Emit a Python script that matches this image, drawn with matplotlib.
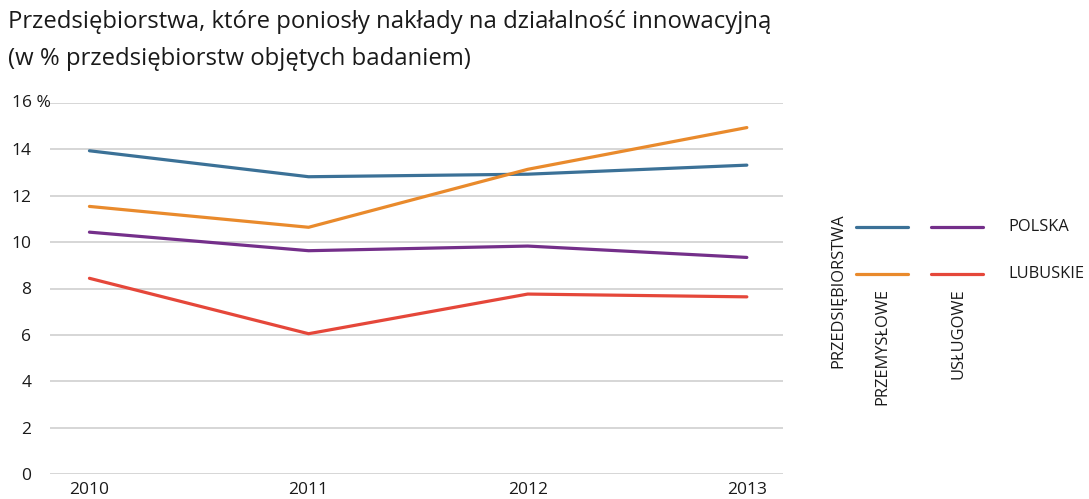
import matplotlib
matplotlib.use("Agg")
import matplotlib.pyplot as plt
from matplotlib.transforms import blended_transform_factory

years = [2010, 2011, 2012, 2013]
przemyslowe_polska = [13.94, 12.82, 12.93, 13.32]
przemyslowe_lubuskie = [11.54, 10.64, 13.14, 14.94]
uslugowe_polska = [10.43, 9.63, 9.83, 9.34]
uslugowe_lubuskie = [8.44, 6.05, 7.76, 7.64]
yticks = [0, 2, 4, 6, 8, 10, 12, 14, 16]
ytick_labels = ["0", "2", "4", "6", "8", "10", "12", "14", ""]
top_label = "16 %"

title = "Przedsiębiorstwa, które poniosły nakłady na działalność innowacyjną\n(w % przedsiębiorstw objętych badaniem)"

C_BLUE = "#3b7197"
C_ORANGE = "#e98a2c"
C_PURPLE = "#742f8a"
C_RED = "#e5473a"
FONT = "Open Sans"
TXT = "#1a1a1a"

plt.rcParams["font.family"] = [FONT, "DejaVu Sans"]

W, H = 1089, 499
fig = plt.figure(figsize=(W / 100, H / 100), dpi=100)
ax = fig.add_axes([50 / W, 1 - 474 / H, (783 - 50) / W, (474 - 103) / H])

lw = 2.3
ax.plot(years, przemyslowe_polska, color=C_BLUE, lw=lw, solid_capstyle="round")
ax.plot(years, przemyslowe_lubuskie, color=C_ORANGE, lw=lw, solid_capstyle="round")
ax.plot(years, uslugowe_polska, color=C_PURPLE, lw=lw, solid_capstyle="round")
ax.plot(years, uslugowe_lubuskie, color=C_RED, lw=lw, solid_capstyle="round")

ax.set_xlim(2009.82, 2013.165)
ax.set_ylim(0, 16)
ax.set_yticks(yticks)
ax.set_yticklabels(ytick_labels)
ax.set_xticks(years)
ax.set_xticklabels([str(y) for y in years])
ax.grid(axis="y", color="#cfcfcf", lw=1.2)
ax.set_axisbelow(True)
for s in ax.spines.values():
    s.set_visible(False)
ax.tick_params(axis="both", length=0, labelsize=12.5, colors=TXT)
ax.tick_params(axis="y", pad=13.5)
ax.tick_params(axis="x", pad=6)

trans = blended_transform_factory(fig.transFigure, ax.transData)
ax.text(12 / W, yticks[-1], top_label, transform=trans, ha="left", va="center",
        fontsize=12.5, color=TXT)

fig.text(8 / W, 1 - 10 / H, title, ha="left", va="top", fontsize=17.2,
         color=TXT, linespacing=1.72)

def px(x, y):
    return x / W, 1 - y / H

for (x0, x1, y, c) in [(856, 908, 227, C_BLUE), (931, 983, 227, C_PURPLE),
                       (856, 908, 274, C_ORANGE), (931, 983, 274, C_RED)]:
    fig.add_artist(plt.Line2D([x0 / W, x1 / W], [1 - y / H, 1 - y / H],
                              color=c, lw=lw, solid_capstyle="round"))

fs_leg = 11.8
fig.text(*px(1008, 227), "POLSKA", ha="left", va="center", fontsize=fs_leg, color=TXT)
fig.text(*px(1008, 274), "LUBUSKIE", ha="left", va="center", fontsize=fs_leg, color=TXT)
fig.text(*px(838, 368), "PRZEDSIĘBIORSTWA", ha="center", va="bottom", rotation=90,
         fontsize=fs_leg, color=TXT)
fig.text(*px(882, 288), "PRZEMYSŁOWE", ha="center", va="top", rotation=90,
         fontsize=fs_leg, color=TXT)
fig.text(*px(958, 288), "USŁUGOWE", ha="center", va="top", rotation=90,
         fontsize=fs_leg, color=TXT)

fig.savefig("out.png", dpi=100, facecolor="white")
